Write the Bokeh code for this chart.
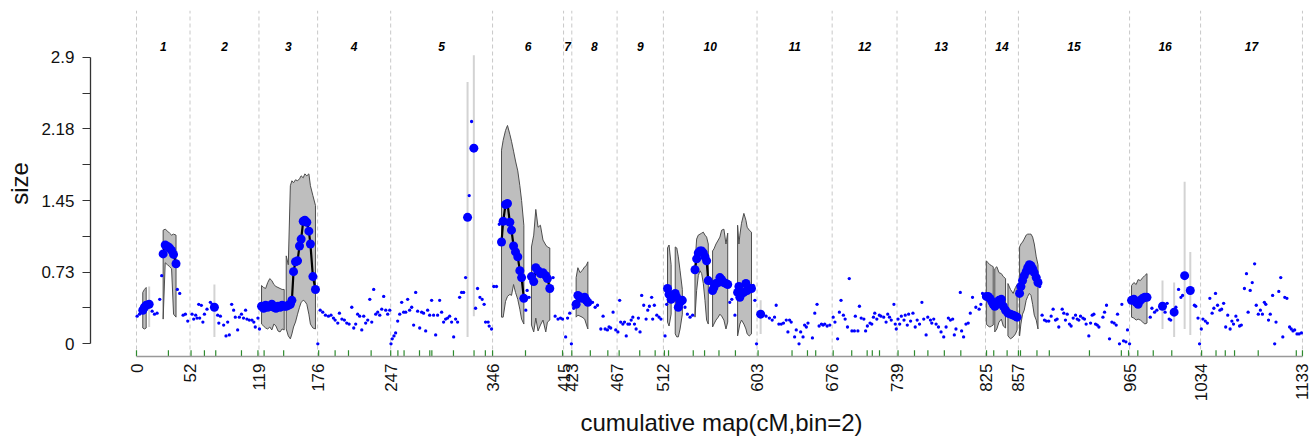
from math import pi
from bokeh.plotting import figure
from bokeh.models import Range1d, FixedTicker, Title
from bokeh.core.properties import value
from bokeh.embed import file_html
from bokeh.resources import INLINE

FONT = "Liberation Sans"

# ---------------- data ----------------
chrom_bounds = [0, 52, 119, 176, 247, 346, 415, 423, 467, 512, 603, 676, 739, 825, 857, 965, 1034, 1133]
chrom_names = [str(i) for i in range(1, 18)]

markers = [0, 31, 53, 66, 77, 102, 118, 124, 143, 177, 193, 206, 228, 247, 254, 260, 275, 285, 287,
           308, 328, 339, 346, 378, 414, 423, 441, 458, 469, 489, 504, 513, 517, 541, 552, 566, 582,
           604, 637, 652, 660, 677, 695, 710, 715, 722, 740, 756, 769, 785, 801, 826, 833, 846, 857,
           859, 875, 887, 926, 957, 964, 973, 988, 1006, 1035, 1049, 1058, 1067, 1090, 1127, 1133]

# non-significant (small) points, per chromosome
c01_cm = [0.6, 2.9, 15.2, 17.5, 20.0, 22.6, 24.5, 39.7, 42.0, 45.3, 47.5, 49.8]
c01_sz = [0.28, 0.30, 0.33, 0.30, 0.31, 0.45, 0.69, 0.55, 0.51, 0.29, 0.30, 0.23]
c02_cm = [54.0, 55.6, 57.5, 58.8, 60.5, 61.4, 63.0, 64.5, 66.0, 68.5, 71.8, 73.7, 78.9, 80.0, 81.5,
          84.7, 87.0, 88.6, 90.2, 92.5, 94.4, 96.0, 98.3, 99.9, 102.0, 104.0, 106.0, 107.3, 109.6,
          112.2, 114.0, 115.4, 118.0]
c02_sz = [0.30, 0.25, 0.29, 0.26, 0.40, 0.26, 0.39, 0.22, 0.30, 0.35, 0.42, 0.40, 0.29, 0.21, 0.28,
          0.19, 0.08, 0.22, 0.09, 0.40, 0.34, 0.27, 0.14, 0.27, 0.30, 0.26, 0.34, 0.25, 0.24,
          0.24, 0.22, 0.17, 0.26]
c03_cm = [119.5]
c03_sz = [0.15]
c04_cm = [176.2, 178.5, 181.0, 183.6, 186.5, 189.0, 191.4, 193.0, 195.6, 197.2, 199.6, 202.0, 204.3,
          206.6, 209.2, 211.1, 213.0, 214.9, 216.9, 218.9, 220.8, 222.7, 224.7, 226.7, 228.6, 230.5,
          232.5, 234.4, 236.4, 238.3, 240.2, 242.2, 244.1, 246.1]
c04_sz = [0.0, 0.34, 0.32, 0.29, 0.28, 0.29, 0.26, 0.24, 0.21, 0.31, 0.25, 0.24, 0.21,
          0.20, 0.37, 0.16, 0.20, 0.30, 0.28, 0.14, 0.28, 0.21, 0.24, 0.45, 0.22, 0.55,
          0.30, 0.32, 0.29, 0.35, 0.48, 0.34, 0.30, 0.34]
c05_cm = [247.3, 248.5, 250.2, 251.8, 253.8, 255.8, 257.7, 259.6, 261.6, 263.5, 265.4, 267.4, 269.3,
          271.3, 273.2, 275.2, 277.1, 279.0, 281.0, 282.9, 284.9, 286.8, 288.7, 290.7, 292.6, 294.6,
          296.5, 298.4, 300.4, 302.3, 304.3, 306.2, 308.2, 310.1, 312.0, 314.0, 315.9, 317.9, 319.8,
          323.3, 325.6, 329.5, 331.4, 333.7, 335.9, 337.8, 339.2, 341.7, 342.7, 345.0]
c05_sz = [0.0, 0.05, 0.08, 0.11, 0.23, 0.30, 0.42, 0.32, 0.32, 0.45, 0.34, 0.37, 0.19,
          0.52, 0.33, 0.16, 0.32, 0.31, 0.13, 0.34, 0.29, 0.44, 0.29, 0.09, 0.29, 0.44,
          0.32, 0.22, 0.25, 0.26, 0.28, 0.22, 0.07, 0.25, 0.22, 0.47, 0.52, 0.52, 0.67,
          1.50, 2.25, 0.36, 0.56, 0.47, 0.45, 0.40, 0.22, 0.22, 0.18, 0.15]
c06_cm = [347.2, 349.8, 352.5, 378.3, 379.6, 381.4, 404.8, 406.8, 409.6, 412.0, 414.0]
c06_sz = [0.58, 0.58, 1.21, 0.34, 0.54, 0.47, 0.67, 0.28, 0.25, 0.26, 0.25]
c07_cm = [417.0, 418.9, 421.0, 422.6]
c07_sz = [0.07, 0.26, 0.31, 0.0]
c08_cm = [424.8, 440.7, 443.2, 445.7, 448.0, 451.2, 453.4, 455.4, 457.6, 459.2, 460.8, 463.1, 465.7]
c08_sz = [0.36, 0.41, 0.42, 0.37, 0.39, 0.15, 0.28, 0.15, 0.14, 0.17, 0.16, 0.32, 0.14]
c09_cm = [467.8, 469.5, 470.5, 472.6, 474.2, 475.9, 477.5, 479.1, 480.7, 482.3, 483.9, 485.5, 487.7,
          489.3, 490.9, 492.9, 495.2, 496.8, 498.4, 500.6, 501.6, 503.2, 505.6, 507.8, 509.6]
c09_sz = [0.12, 0.44, 0.22, 0.20, 0.22, 0.08, 0.20, 0.20, 0.24, 0.27, 0.20, 0.15, 0.26,
          0.12, 0.49, 0.39, 0.25, 0.34, 0.38, 0.47, 0.25, 0.39, 0.29, 0.27, 0.25]
c10_cm = [513.6, 515.2, 533.0, 535.3, 537.9, 540.4, 557.9, 576.5, 578.5, 581.5, 599.3, 600.9, 602.5]
c10_sz = [0.08, 0.40, 0.37, 0.30, 0.27, 0.29, 0.61, 0.42, 0.45, 0.29, 0.59, 0.44, 0.0]
c11_cm = [608.5, 611.8, 615.0, 617.7, 620.0, 621.6, 624.2, 626.5, 628.7, 631.4, 633.0, 634.6, 636.2,
          639.5, 641.1, 643.8, 645.4, 647.7, 649.2, 650.9, 652.5, 656.8, 659.1, 661.3, 663.3, 665.6,
          667.2, 668.8, 671.1, 673.7]
c11_sz = [0.31, 0.28, 0.26, 0.24, 0.27, 0.39, 0.20, 0.20, 0.21, 0.24, 0.12, 0.24, 0.22,
          0.07, 0.14, 0.0, 0.12, 0.07, 0.19, 0.17, 0.21, 0.06, 0.31, 0.40, 0.18, 0.20,
          0.19, 0.20, 0.18, 0.19]
c12_cm = [677.0, 678.7, 681.3, 683.0, 684.6, 686.9, 688.6, 690.9, 692.6, 695.2, 697.6, 698.5, 701.0,
          702.5, 704.2, 706.8, 708.5, 710.2, 712.8, 714.5, 716.1, 717.4, 719.4, 721.8, 723.4, 726.1,
          728.4, 730.0, 731.7, 733.4, 736.0, 737.3, 738.3]
c12_sz = [0.27, 0.22, 0.05, 0.32, 0.44, 0.29, 0.25, 0.17, 0.66, 0.13, 0.13, 0.28, 0.13,
          0.38, 0.26, 0.25, 0.13, 0.18, 0.21, 0.20, 0.27, 0.31, 0.25, 0.29, 0.28, 0.27,
          0.22, 0.30, 0.27, 0.24, 0.40, 0.20, 0.15]
c13_cm = [740.0, 741.6, 743.2, 745.8, 747.0, 749.0, 750.3, 752.2, 754.5, 756.7, 758.6, 760.9, 763.2,
          765.0, 767.3, 768.9, 771.5, 772.8, 774.7, 777.0, 779.3, 781.8, 784.4, 786.7, 788.9, 790.9,
          793.1, 794.7, 796.3, 800.5, 801.8, 803.7, 806.0, 808.2, 810.2, 812.4, 815.6, 818.8, 820.5,
          822.1]
c13_sz = [0.25, 0.20, 0.28, 0.24, 0.29, 0.19, 0.30, 0.23, 0.31, 0.17, 0.24, 0.20, 0.42,
          0.25, 0.09, 0.27, 0.24, 0.21, 0.25, 0.20, 0.17, 0.12, 0.07, 0.17, 0.26, 0.24,
          0.25, 0.09, 0.15, 0.52, 0.13, 0.07, 0.20, 0.21, 0.31, 0.47, 0.37, 0.35, 0.40,
          0.51]
c15_cm = [877.6, 880.0, 882.3, 884.2, 886.5, 888.8, 890.7, 893.0, 894.6, 896.2, 899.5, 901.1, 902.7,
          904.4, 906.6, 908.2, 910.2, 912.5, 914.1, 915.7, 917.3, 919.6, 921.2, 922.8, 925.4, 927.1,
          928.7, 930.3, 931.9, 933.6, 935.2, 939.1, 940.7, 942.6, 945.5, 947.8, 950.0, 952.0, 953.3,
          955.2, 957.5, 959.1, 961.4, 963.0, 965.0]
c15_sz = [0.58, 0.29, 0.24, 0.23, 0.23, 0.28, 0.35, 0.24, 0.25, 0.17, 0.35, 0.31, 0.24,
          0.30, 0.20, 0.18, 0.26, 0.29, 0.25, 0.24, 0.28, 0.26, 0.25, 0.20, 0.08, 0.21,
          0.29, 0.30, 0.20, 0.19, 0.17, 0.27, 0.32, 0.39, 0.05, 0.22, 0.21, 0.19, 0.30,
          0.0, 0.40, 0.03, 0.02, 0.14, 0.0]
c16_cm = [985.1, 986.7, 989.3, 991.5, 999.5, 1001.5, 1003.5, 1005.0, 1010.0, 1012.6, 1014.9, 1016.5,
          1028.0, 1029.3, 1031.5, 1033.0]
c16_sz = [0.27, 0.36, 0.32, 0.34, 0.32, 0.41, 0.25, 0.24, 0.37, 0.55, 0.47, 0.49,
          0.39, 0.38, 0.26, 0.0]
c17_cm = [1034.7, 1036.3, 1038.6, 1040.6, 1043.0, 1045.2, 1046.9, 1048.5, 1050.5, 1052.8, 1054.5,
          1056.4, 1058.4, 1060.4, 1062.7, 1064.4, 1066.0, 1068.3, 1070.0, 1071.9, 1073.6, 1076.6,
          1078.6, 1080.2, 1082.2, 1084.2, 1086.5, 1088.1, 1090.1, 1092.1, 1094.1, 1096.0, 1097.4,
          1100.0, 1101.7, 1104.0, 1106.0, 1107.3, 1110.0, 1111.9, 1113.9, 1115.8, 1117.9, 1120.5,
          1122.1, 1123.8, 1125.4, 1127.7, 1129.7, 1132.0]
c17_sz = [0.15, 0.25, 0.23, 0.21, 0.46, 0.31, 0.36, 0.51, 0.39, 0.34, 0.35,
          0.41, 0.17, 0.29, 0.15, 0.23, 0.20, 0.28, 0.24, 0.18, 0.19, 0.56,
          0.71, 0.32, 0.54, 0.62, 0.81, 0.39, 0.30, 0.34, 0.30, 0.42, 0.40,
          0.24, 0.30, 0.49, 0.0, 0.22, 0.53, 0.67, 0.07, 0.47, 0.46, 0.17,
          0.15, 0.13, 0.14, 0.10, 0.10, 0.11]

# significant runs: position (cM), effect size, lower / upper confidence bound
r01a_cm = [6.1, 7.7, 9.4]
r01a_sz = [0.34, 0.37, 0.39]
r01a_lo = [0.16, 0.15, 0.16]
r01a_hi = [0.52, 0.55, 0.57]
r01b_cm = [25.9, 27.9, 30.2, 32.1, 34.1, 36.0, 38.4]
r01b_sz = [0.91, 1.00, 0.985, 0.97, 0.945, 0.905, 0.81]
r01b_lo = [0.25, 0.82, 0.80, 0.78, 0.76, 0.30, 0.27]
r01b_hi = [1.15, 1.16, 1.14, 1.12, 1.10, 1.11, 1.10]
r03a_cm = [121.5, 123.5, 125.5, 127.5, 129.5, 131.5, 133.5, 135.5, 137.5, 139.5, 141.5, 143.5]
r03a_sz = [0.38, 0.36, 0.39, 0.37, 0.38, 0.40, 0.37, 0.36, 0.38, 0.37, 0.39, 0.38]
r03a_lo = [0.20, 0.18, 0.16, 0.15, 0.17, 0.14, 0.20, 0.18, 0.13, 0.12, 0.15, 0.14]
r03a_hi = [0.59, 0.57, 0.56, 0.62, 0.66, 0.64, 0.60, 0.58, 0.57, 0.56, 0.55, 0.55]
r03b_cm = [145.5, 147.5, 149.5, 151.0, 152.6, 154.5, 156.5, 158.4, 160.0, 162.0, 163.6, 165.5,
           167.5, 169.0, 171.4, 173.9]
r03b_sz = [0.38, 0.39, 0.40, 0.44, 0.73, 0.83, 0.84, 0.99, 1.06, 1.24, 1.25, 1.23,
           1.14, 1.01, 0.68, 0.55]
r03b_lo = [0.15, 0.08, 0.05, 0.10, 0.17, 0.22, 0.30, 0.37, 0.42, 0.44, 0.43, 0.40,
           0.30, 0.20, 0.16, 0.15]
r03b_hi = [0.89, 0.80, 1.60, 1.65, 1.63, 1.66, 1.65, 1.67, 1.70, 1.68, 1.72, 1.70,
           1.72, 1.60, 1.50, 1.40]
r06a_cm = [354.7, 356.3, 358.6, 360.5, 362.8, 364.4, 366.4, 368.3, 370.5, 372.5, 374.2, 376.4]
r06a_sz = [1.03, 1.24, 1.41, 1.42, 1.23, 1.15, 0.99, 0.93, 0.88, 0.74, 0.67, 0.46]
r06a_lo = [0.27, 0.27, 0.43, 0.48, 0.50, 0.49, 0.60, 0.52, 0.45, 0.35, 0.25, 0.20]
r06a_hi = [1.96, 2.06, 2.16, 2.21, 2.12, 2.05, 1.95, 1.85, 1.75, 1.60, 1.45, 1.20]
r06b_cm = [383.8, 386.0, 388.0, 390.2, 392.5, 395.0, 397.7, 399.3, 401.6]
r06b_sz = [0.68, 0.63, 0.77, 0.74, 0.71, 0.72, 0.69, 0.66, 0.56]
r06b_lo = [0.19, 0.12, 0.26, 0.13, 0.19, 0.24, 0.12, 0.22, 0.24]
r06b_hi = [0.98, 1.10, 1.36, 1.18, 1.20, 1.05, 1.00, 0.98, 0.97]
r08_cm = [427.2, 428.9, 431.0, 433.0, 435.5, 437.0, 438.6]
r08_sz = [0.40, 0.49, 0.47, 0.46, 0.47, 0.44, 0.42]
r08_lo = [0.27, 0.29, 0.28, 0.27, 0.25, 0.20, 0.15]
r08_hi = [0.67, 0.77, 0.72, 0.74, 0.78, 0.79, 0.83]
r10a_cm = [516.0, 517.5, 519.5]
r10a_sz = [0.56, 0.50, 0.45]
r10a_lo = [0.22, 0.18, 0.30]
r10a_hi = [0.97, 1.00, 0.80]
r10b_cm = [523.5, 525.0, 526.5, 528.2, 530.4]
r10b_sz = [0.51, 0.47, 0.37, 0.42, 0.44]
r10b_lo = [0.10, 0.07, 0.07, 0.15, 0.30]
r10b_hi = [0.98, 0.97, 0.88, 0.74, 0.55]
r10c_cm = [542.7, 544.3, 545.9, 547.6, 549.2, 550.8, 552.4, 554.0, 555.6]
r10c_sz = [0.75, 0.86, 0.92, 0.94, 0.94, 0.92, 0.88, 0.84, 0.64]
r10c_lo = [0.27, 0.54, 0.69, 0.74, 0.71, 0.61, 0.44, 0.24, 0.20]
r10c_hi = [0.81, 1.06, 1.10, 1.11, 1.12, 1.13, 1.10, 1.08, 1.01]
r10d_cm = [559.8, 561.1, 563.1, 565.3, 566.9, 568.6, 570.8, 572.8, 574.5]
r10d_sz = [0.54, 0.57, 0.61, 0.62, 0.67, 0.65, 0.62, 0.61, 0.60]
r10d_lo = [0.17, 0.20, 0.24, 0.27, 0.30, 0.28, 0.24, 0.15, 0.22]
r10d_hi = [0.94, 0.96, 1.01, 1.05, 1.08, 1.15, 1.16, 1.01, 1.12]
r10e_cm = [584.1, 585.4, 586.3, 587.9, 590.2, 592.2, 593.4, 595.4, 597.6]
r10e_sz = [0.52, 0.58, 0.47, 0.51, 0.52, 0.61, 0.54, 0.56, 0.56]
r10e_lo = [0.08, 0.15, 0.20, 0.24, 0.20, 0.15, 0.10, 0.08, 0.10]
r10e_hi = [1.20, 1.01, 1.10, 1.22, 1.32, 1.25, 1.18, 1.15, 1.13]
r14a_cm = [825.8, 827.5, 829.3, 831.0, 832.5]
r14a_sz = [0.48, 0.48, 0.46, 0.43, 0.40]
r14a_lo = [0.20, 0.18, 0.17, 0.18, 0.19]
r14a_hi = [0.84, 0.82, 0.80, 0.79, 0.78]
r14b_cm = [834.0, 836.0, 838.1, 840.4, 842.3, 844.5]
r14b_sz = [0.38, 0.40, 0.44, 0.45, 0.38, 0.34]
r14b_lo = [0.12, 0.15, 0.22, 0.25, 0.18, 0.16]
r14b_hi = [0.76, 0.78, 0.72, 0.71, 0.68, 0.66]
r14c_cm = [846.8, 849.3, 851.9, 854.1, 855.7]
r14c_sz = [0.31, 0.30, 0.29, 0.28, 0.27]
r14c_lo = [0.08, 0.05, 0.07, 0.10, 0.14]
r14c_hi = [0.61, 0.55, 0.51, 0.57, 0.60]
r15_cm = [858.1, 859.4, 861.0, 862.6, 864.5, 866.0, 867.6, 869.2, 870.8, 872.4, 874.3, 876.0]
r15_sz = [0.51, 0.58, 0.64, 0.69, 0.73, 0.77, 0.80, 0.79, 0.76, 0.72, 0.67, 0.62]
r15_lo = [0.08, 0.20, 0.30, 0.34, 0.44, 0.48, 0.51, 0.49, 0.40, 0.29, 0.24, 0.15]
r15_hi = [0.98, 1.01, 1.03, 1.06, 1.10, 1.11, 1.11, 1.11, 1.08, 1.01, 0.88, 0.80]
r16_cm = [966.9, 969.2, 971.4, 973.3, 975.5, 977.8, 979.7, 981.9]
r16_sz = [0.44, 0.45, 0.42, 0.40, 0.44, 0.46, 0.47, 0.47]
r16_lo = [0.27, 0.26, 0.24, 0.25, 0.24, 0.22, 0.20, 0.21]
r16_hi = [0.59, 0.62, 0.60, 0.65, 0.64, 0.67, 0.69, 0.71]

# isolated significant points with their confidence interval
single_cm = [12.3, 75.7, 321.7, 327.8, 606.5, 997.0, 1008.3, 1018.5, 1024.0]
single_sz = [0.40, 0.37, 1.28, 1.98, 0.30, 0.38, 0.32, 0.69, 0.54]
single_lo = [0.17, 0.07, 0.07, 0.28, 0.10, 0.15, 0.07, 0.15, 0.09]
single_hi = [0.58, 0.60, 2.65, 2.92, 0.44, 0.64, 0.62, 1.64, 0.93]

# ---------------- assemble ----------------
small_cm = (c01_cm + c02_cm + c03_cm + c04_cm + c05_cm + c06_cm + c07_cm + c08_cm + c09_cm +
            c10_cm + c11_cm + c12_cm + c13_cm + c15_cm + c16_cm + c17_cm)
small_sz = (c01_sz + c02_sz + c03_sz + c04_sz + c05_sz + c06_sz + c07_sz + c08_sz + c09_sz +
            c10_sz + c11_sz + c12_sz + c13_sz + c15_sz + c16_sz + c17_sz)

runs = [
    (r01a_cm, r01a_sz, r01a_lo, r01a_hi), (r01b_cm, r01b_sz, r01b_lo, r01b_hi),
    (r03a_cm, r03a_sz, r03a_lo, r03a_hi), (r03b_cm, r03b_sz, r03b_lo, r03b_hi),
    (r06a_cm, r06a_sz, r06a_lo, r06a_hi), (r06b_cm, r06b_sz, r06b_lo, r06b_hi),
    (r08_cm, r08_sz, r08_lo, r08_hi),
    (r10a_cm, r10a_sz, r10a_lo, r10a_hi), (r10b_cm, r10b_sz, r10b_lo, r10b_hi),
    (r10c_cm, r10c_sz, r10c_lo, r10c_hi), (r10d_cm, r10d_sz, r10d_lo, r10d_hi),
    (r10e_cm, r10e_sz, r10e_lo, r10e_hi),
    (r14a_cm, r14a_sz, r14a_lo, r14a_hi), (r14b_cm, r14b_sz, r14b_lo, r14b_hi),
    (r14c_cm, r14c_sz, r14c_lo, r14c_hi),
    (r15_cm, r15_sz, r15_lo, r15_hi), (r16_cm, r16_sz, r16_lo, r16_hi),
]

Y0, Y1 = -0.1285, 3.3735
X0, X1 = -44.70, 1142.75

p = figure(width=1312, height=438, x_range=Range1d(X0, X1), y_range=Range1d(Y0, Y1),
           output_backend="svg", toolbar_location=None,
           min_border_left=90, min_border_right=0, min_border_top=10, min_border_bottom=82)
p.xgrid.visible = False
p.ygrid.visible = False
p.outline_line_color = None
p.background_fill_color = "white"
p.border_fill_color = "white"

nb = len(chrom_bounds)
p.segment(x0=chrom_bounds, y0=[Y0] * nb, x1=chrom_bounds, y1=[Y1] * nb,
          line_color="#c8c8c8", line_width=1, line_dash="4 3")

# confidence polygons
poly_xs = [r[0] + r[0][::-1] for r in runs]
poly_ys = [r[3] + r[2][::-1] for r in runs]
p.patches(poly_xs, poly_ys, fill_color="#bebebe", line_color="#4d4d4d", line_width=1)

# isolated CI bars
p.segment(x0=single_cm, y0=single_lo, x1=single_cm, y1=single_hi,
          line_color="#d3d3d3", line_width=2)

# small points
p.scatter(small_cm, small_sz, size=3.3, fill_color="#0000ff", line_color=None)

# effect lines and big points
for r in runs:
    p.line(r[0], r[1], line_color="black", line_width=2.2)
big_cm = [x for r in runs for x in r[0]] + single_cm
big_sz = [y for r in runs for y in r[1]] + single_sz
p.scatter(big_cm, big_sz, size=9, fill_color="#0000ff", line_color=None)

# rug of markers
nm = len(markers)
p.segment(x0=markers, y0=[Y0] * nm, x1=markers, y1=[Y0 + 0.062] * nm,
          line_color="#2e8b2e", line_width=1.2)

# chromosome names
mids = [(chrom_bounds[i] + chrom_bounds[i + 1]) / 2 for i in range(len(chrom_names))]
p.text(x=mids, y=[3.009] * len(mids), text=chrom_names, text_font=value(FONT),
       text_font_style="bold italic", text_font_size="12px", text_align="center",
       text_baseline="middle", text_color="black")

# y axis
ya = p.yaxis[0]
ya.bounds = (0, 2.9)
ya.ticker = FixedTicker(ticks=[0, 0.725, 1.45, 2.175, 2.9],
                        minor_ticks=[0.3625, 1.0875, 1.8125, 2.5375])
ya.major_label_overrides = {0: "0", 0.725: "0.73", 1.45: "1.45", 2.175: "2.18", 2.9: "2.9"}
ya.axis_line_color = "#333333"
ya.axis_line_width = 1.3
ya.major_tick_line_color = "#333333"
ya.minor_tick_line_color = "#333333"
ya.major_tick_out = 8
ya.major_tick_in = 0
ya.minor_tick_out = 8
ya.minor_tick_in = 0
ya.major_label_text_font = FONT
ya.major_label_text_font_size = "17px"
ya.major_label_text_color = "#111111"
ya.major_label_standoff = 8
ya.axis_label = "size"
ya.axis_label_text_font = FONT
ya.axis_label_text_font_size = "24px"
ya.axis_label_text_font_style = "normal"
ya.axis_label_text_color = "#111111"
ya.axis_label_standoff = 5

# x axis
xa = p.xaxis[0]
xa.bounds = (0, 1133)
xa.ticker = FixedTicker(ticks=chrom_bounds, minor_ticks=[])
xa.major_label_orientation = pi / 2
xa.major_tick_out = 0
xa.major_tick_in = 0
xa.minor_tick_out = 0
xa.minor_tick_in = 0
xa.axis_line_color = "#999999"
xa.axis_line_width = 1.5
xa.major_label_text_font = FONT
xa.major_label_text_font_size = "17px"
xa.major_label_text_color = "#111111"
xa.major_label_standoff = 7

# x axis title, centred under the 0..1133 span of the axis
p.add_layout(Title(text="cumulative map(cM,bin=2)", align="left", offset=490, standoff=4,
                   text_font=FONT, text_font_size="24px", text_font_style="normal",
                   text_color="#111111"), "below")

open("out.html", "w").write(file_html(p, INLINE))
